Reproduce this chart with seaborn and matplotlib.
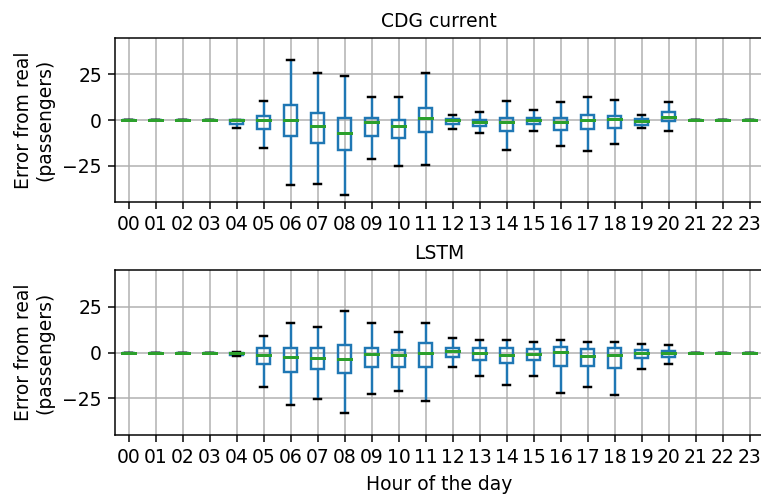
import numpy as np
import pandas as pd
import matplotlib
matplotlib.use("Agg")
import matplotlib.pyplot as plt
import seaborn as sns

hours = [f"{h:02d}" for h in range(24)]

# Five-number summaries per hour: lower whisker, Q1, median, Q3, upper whisker
cdg_lo  = [0, 0, 0, 0, -4.5, -15.1, -35.9, -35.2, -41.4, -21.3, -25.0, -24.6, -4.9, -7.1, -16.4, -6.0, -14.0, -17.1, -12.9, -4.6, -6.0, 0, 0, 0]
cdg_q1  = [0, 0, 0, 0, -2.2, -4.9, -8.9, -12.8, -16.4, -8.6, -10.0, -6.4, -2.2, -3.4, -6.0, -2.4, -5.3, -4.9, -4.2, -2.7, -0.4, 0, 0, 0]
cdg_med = [0, 0, 0, 0, 0.0, 0.2, 0.0, -3.1, -7.1, -0.9, -3.1, 0.9, 0.0, -0.9, -1.3, 0.0, -0.9, 0.2, 0.5, -0.5, 1.5, 0, 0, 0]
cdg_q3  = [0, 0, 0, 0, 0.0, 2.0, 8.2, 3.8, 0.9, 1.3, 0.0, 6.7, 0.8, 0.2, 1.1, 1.3, 0.9, 2.7, 2.0, 0.5, 4.2, 0, 0, 0]
cdg_hi  = [0, 0, 0, 0, 0.0, 10.6, 33.0, 25.9, 23.9, 12.8, 12.8, 25.9, 2.7, 4.2, 10.6, 5.3, 10.0, 12.8, 10.8, 2.7, 10.0, 0, 0, 0]

lstm_lo  = [0, 0, 0, 0, -2.0, -18.9, -28.8, -25.5, -32.9, -22.8, -21.2, -26.6, -7.9, -12.9, -17.6, -12.9, -21.9, -18.9, -23.0, -9.0, -6.1, 0, 0, 0]
lstm_q1  = [0, 0, 0, 0, -1.5, -6.3, -10.4, -9.0, -11.2, -7.7, -8.1, -7.7, -2.2, -4.0, -5.8, -4.0, -7.2, -7.2, -8.3, -2.9, -2.2, 0, 0, 0]
lstm_med = [0, 0, 0, 0, -0.5, -1.3, -2.3, -2.9, -3.6, -0.9, -1.3, -0.4, 0.9, -0.4, -1.3, -0.7, 0.4, -1.8, -1.4, -0.4, 0.0, 0, 0, 0]
lstm_q3  = [0, 0, 0, 0, 0.0, 2.7, 2.7, 2.7, 4.0, 2.2, 1.3, 5.4, 2.2, 2.2, 2.2, 1.8, 3.2, 1.8, 2.2, 1.1, 0.9, 0, 0, 0]
lstm_hi  = [0, 0, 0, 0, 0.5, 9.0, 16.2, 13.8, 22.8, 16.2, 11.2, 16.2, 7.9, 6.8, 6.8, 5.8, 6.8, 5.8, 5.8, 4.7, 4.3, 0, 0, 0]

titles = ["CDG current", "LSTM"]


def long_frame(lo, q1, med, q3, hi):
    rows = []
    for h, vals in zip(hours, zip(lo, q1, med, q3, hi)):
        for v in vals:
            rows.append({"hour": h, "error": v})
    return pd.DataFrame(rows)


frames = [
    long_frame(cdg_lo, cdg_q1, cdg_med, cdg_q3, cdg_hi),
    long_frame(lstm_lo, lstm_q1, lstm_med, lstm_q3, lstm_hi),
]

plt.rcParams["font.family"] = ["DejaVu Sans"]
plt.rcParams["font.size"] = 10

DPI = 135
W, H = 761, 496
fig = plt.figure(figsize=(W / DPI, H / DPI), dpi=DPI)
ax_top = fig.add_axes([115 / W, 1 - 202 / H, 648 / W, 164 / H])
ax_bot = fig.add_axes([115 / W, 1 - 435 / H, 648 / W, 165 / H])

lw = 1.3
for ax, df, title in zip([ax_top, ax_bot], frames, titles):
    # hollow boxes; medians span the full box width and sit on top
    sns.boxplot(
        data=df, x="hour", y="error", order=hours, ax=ax,
        width=0.5, whis=(0, 100), fill=True, showfliers=False,
        color="#1f77b4", linewidth=lw,
        boxprops={"facecolor": "none", "edgecolor": "#1f77b4", "linewidth": lw},
        whiskerprops={"color": "#1f77b4", "linewidth": lw},
        capprops={"color": "black", "linewidth": lw},
        medianprops={"color": "#2ca02c", "linewidth": 1.6,
                     "solid_capstyle": "projecting", "zorder": 3},
    )
    ax.set_xlim(-0.5, 23.5)
    ax.set_ylim(-45, 45)
    ax.set_yticks([-25, 0, 25])
    ax.grid(True, color="#b0b0b0", linewidth=0.8)
    ax.set_axisbelow(True)
    ax.set_title(title, fontsize=10)
    ax.set_ylabel("Error from real\n(passengers)", labelpad=4)
    ax.set_xlabel("")
    for s in ax.spines.values():
        s.set_color("black")

ax_bot.set_xlabel("Hour of the day")

fig.savefig("out.png", dpi=DPI)
